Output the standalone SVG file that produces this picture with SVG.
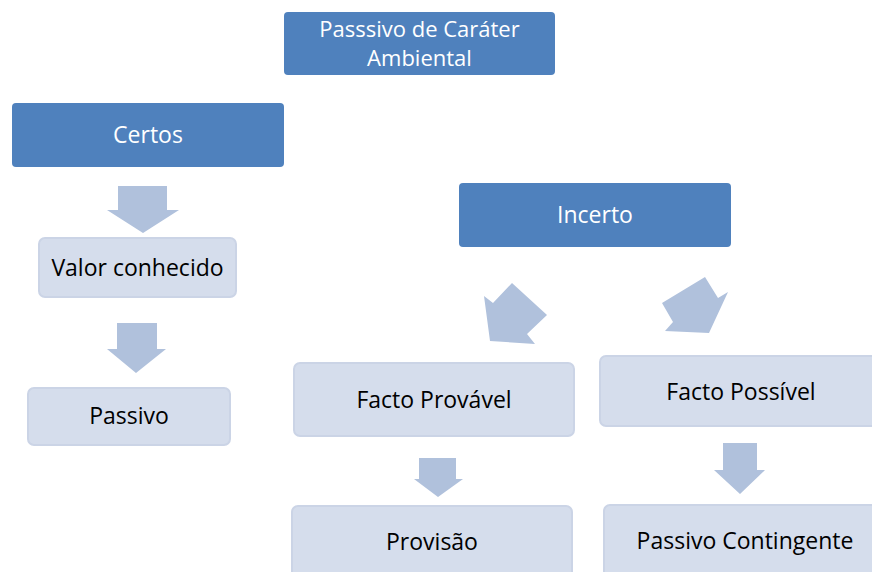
<svg xmlns="http://www.w3.org/2000/svg" width="872" height="572" viewBox="0 0 872 572">
<style>
.dark{fill:#4F81BD;}
.light{fill:#D5DDEC;stroke:#CBD4E6;stroke-width:2;}
.arrow{fill:#B0C1DC;}
text{font-family:"Open Sans","Liberation Sans",sans-serif;font-size:23px;text-anchor:middle;}
.t{font-size:22px;}
.w{fill:#FFFFFF;}
.b{fill:#000000;}
</style>
<rect width="872" height="572" fill="#FFFFFF"/>
<g id="title"><rect class="dark" x="284" y="12" width="271" height="63" rx="4"/><text class="w t" x="419.5" y="37">Passsivo de Caráter</text><text class="w t" x="419.5" y="66">Ambiental</text></g>
<g id="certos"><rect class="dark" x="12" y="103" width="272" height="64" rx="4"/><text class="w" x="148" y="143">Certos</text></g>
<g id="valor"><rect class="light" x="39" y="238" width="197" height="59" rx="6"/><text class="b" x="137.5" y="276">Valor conhecido</text></g>
<g id="passivo"><rect class="light" x="28" y="388" width="202" height="57" rx="6"/><text class="b" x="129" y="424">Passivo</text></g>
<g id="incerto"><rect class="dark" x="459" y="183" width="272" height="64" rx="4"/><text class="w" x="595" y="223">Incerto</text></g>
<g id="provavel"><rect class="light" x="294" y="363" width="280" height="73" rx="6"/><text class="b" x="434" y="408">Facto Provável</text></g>
<g id="possivel"><rect class="light" x="600" y="356" width="280" height="70" rx="6"/><text class="b" x="741" y="400">Facto Possível</text></g>
<g id="provisao"><rect class="light" x="292" y="506" width="280" height="80" rx="6"/><text class="b" x="432" y="550">Provisão</text></g>
<g id="contingente"><rect class="light" x="604" y="505" width="280" height="80" rx="6"/><text class="b" x="745" y="549">Passivo Contingente</text></g>
<g id="connectors">
<polygon class="arrow" points="118,186 167,186 167,210 179,210 143,233 107,210 118,210"/>
<polygon class="arrow" points="117,323 157,323 157,349 166,349 136,373 107,349 117,349"/>
<polygon class="arrow" points="512,283 547,315 527,334 535,344 490,341 484,296 493,303"/>
<polygon class="arrow" points="705,277 718,298 728,292 709,333 665,331 673,322 662,303"/>
<polygon class="arrow" points="419,458 456,458 456,479 463,479 438,497 414,479 419,479"/>
<polygon class="arrow" points="723,443 757,443 757,470 765,470 740,494 714,470 723,470"/>
</g>
</svg>
